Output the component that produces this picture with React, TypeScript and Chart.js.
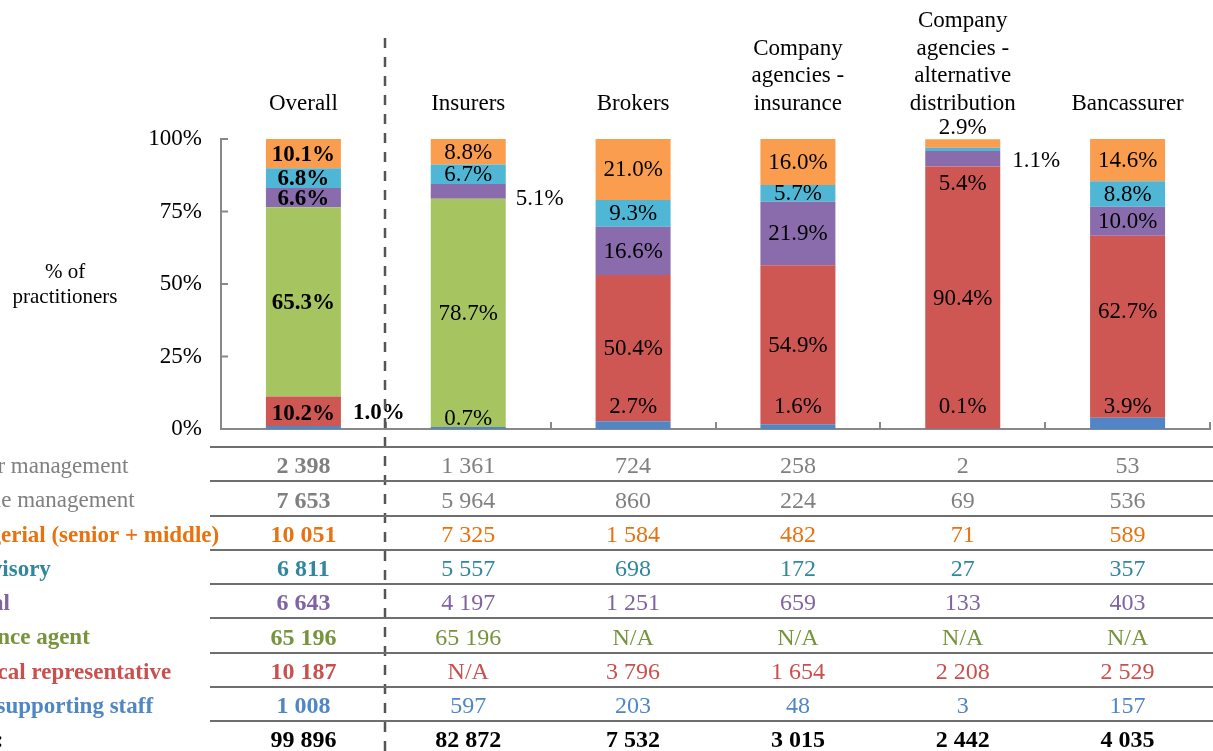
import React, { useEffect, useRef } from "react";
import { Chart, registerables } from "chart.js";

Chart.register(...registerables);

// ---------- DATA ----------
const categories: string[][] = [
  ["Overall"],
  ["Insurers"],
  ["Brokers"],
  ["Company", "agencies -", "insurance"],
  ["Company", "agencies -", "alternative", "distribution"],
  ["Bancassurer"],
];

const seriesNames = [
  "Other supporting staff",
  "Technical representative",
  "Insurance agent",
  "Clerical",
  "Supervisory",
  "Managerial (senior + middle)",
];
const otherPct = [1.0, 0.7, 2.7, 1.6, 0.1, 3.9];
const techPct = [10.2, 0, 50.4, 54.9, 90.4, 62.7];
const agentPct = [65.3, 78.7, 0, 0, 0, 0];
const clericalPct = [6.6, 5.1, 16.6, 21.9, 5.4, 10.0];
const supervisoryPct = [6.8, 6.7, 9.3, 5.7, 1.1, 8.8];
const managerialPct = [10.1, 8.8, 21.0, 16.0, 2.9, 14.6];

const yTicks = [0, 25, 50, 75, 100];

const tableRowLabels = [
  "Senior management",
  "Middle management",
  "Managerial (senior + middle)",
  "Supervisory",
  "Clerical",
  "Insurance agent",
  "Technical representative",
  "Other supporting staff",
  "Total:",
];
const seniorMgmt = [2398, 1361, 724, 258, 2, 53];
const middleMgmt = [7653, 5964, 860, 224, 69, 536];
const managerialCount = [10051, 7325, 1584, 482, 71, 589];
const supervisoryCount = [6811, 5557, 698, 172, 27, 357];
const clericalCount = [6643, 4197, 1251, 659, 133, 403];
const agentCount: (number | null)[] = [65196, 65196, null, null, null, null];
const techCount: (number | null)[] = [10187, null, 3796, 1654, 2208, 2529];
const otherCount = [1008, 597, 203, 48, 3, 157];
const totalCount = [99896, 82872, 7532, 3015, 2442, 4035];

// ---------- STYLE ----------
const barColors = ["#5086C6", "#CE5653", "#A6C561", "#8A6CAD", "#4FB7D5", "#FB9D4E"];
const rowColors = ["#808080", "#808080", "#E8720F", "#31879D", "#8064A2", "#77933C", "#C9504D", "#4F86C6", "#000000"];
const rowLabelBold = [false, false, true, true, true, true, true, true, true];

const SERIF = "'Liberation Serif', 'Times New Roman', serif";

// label placement overrides: key "dataset-category"
type Place = { mode: "center" | "right" | "above" | "base"; dx?: number; dy?: number };
const placements: Record<string, Place> = {
  "0-0": { mode: "right", dx: 12, dy: -15 },
  "0-1": { mode: "base", dy: -11 },
  "0-2": { mode: "base", dy: -23 },
  "0-3": { mode: "base", dy: -23 },
  "0-4": { mode: "base", dy: -23 },
  "0-5": { mode: "base", dy: -23 },
  "1-0": { mode: "center", dy: 2 },
  "3-1": { mode: "right", dx: 10, dy: 7 },
  "3-4": { mode: "center", dy: 24 },
  "4-4": { mode: "right", dx: 12, dy: 11 },
  "5-4": { mode: "above", dy: -12 },
  "1-5": { mode: "center", dy: -16 },
};

function fmt(v: number | null): string {
  if (v === null) return "N/A";
  return String(v).replace(/\B(?=(\d{3})+(?!\d))/g, " ");
}

const overlayPlugin = {
  id: "overlay",
  afterDraw(chart: any) {
    const ctx: CanvasRenderingContext2D = chart.ctx;
    const xs = chart.scales.x;
    const ys = chart.scales.y;
    const area = chart.chartArea;
    ctx.save();

    // inward y ticks
    ctx.strokeStyle = "#888";
    ctx.lineWidth = 2;
    yTicks.forEach((t) => {
      const y = ys.getPixelForValue(t);
      ctx.beginPath();
      ctx.moveTo(area.left, y);
      ctx.lineTo(area.left + 7, y);
      ctx.stroke();
    });
    // x boundary ticks
    const n = categories.length;
    for (let i = 1; i <= n; i++) {
      const x = Math.round(xs.getPixelForValue(i - 0.5));
      ctx.beginPath();
      ctx.moveTo(x, area.bottom);
      ctx.lineTo(x, area.bottom - 7);
      ctx.stroke();
    }

    // headers
    ctx.fillStyle = "#000";
    ctx.font = `23px ${SERIF}`;
    ctx.textAlign = "center";
    ctx.textBaseline = "middle";
    categories.forEach((lines, i) => {
      const x = xs.getPixelForValue(i);
      const lh = 27.6;
      lines.forEach((ln, k) => {
        const y = 104 - (lines.length - 1 - k) * lh;
        ctx.fillText(ln, x, y);
      });
    });

    // y title
    ctx.font = `21px ${SERIF}`;
    ctx.fillText("% of", 65, 272);
    ctx.fillText("practitioners", 65, 297);

    // bar labels
    chart.data.datasets.forEach((ds: any, di: number) => {
      const meta = chart.getDatasetMeta(di);
      meta.data.forEach((bar: any, ci: number) => {
        const v = ds.data[ci];
        if (!v) return;
        const p = placements[`${di}-${ci}`] || { mode: "center" };
        const bold = ci === 0;
        ctx.font = `${bold ? "bold " : ""}23px ${SERIF}`;
        ctx.fillStyle = "#000";
        const txt = v.toFixed(1) + "%";
        let x = bar.x;
        let y = (bar.y + bar.base) / 2;
        ctx.textAlign = "center";
        if (p.mode === "right") {
          x = bar.x + bar.width / 2 + (p.dx || 0);
          ctx.textAlign = "left";
        } else if (p.mode === "above") {
          y = bar.y;
        } else if (p.mode === "base") {
          y = ys.getPixelForValue(0);
        }
        y += p.dy || 0;
        ctx.fillText(txt, x, y + 1);
      });
    });

    // dashed separator
    const sepX = Math.round(xs.getPixelForValue(0.5)) - 1;
    ctx.strokeStyle = "#555";
    ctx.lineWidth = 2.5;
    ctx.setLineDash([10, 9]);
    ctx.beginPath();
    ctx.moveTo(sepX, 38);
    ctx.lineTo(sepX, 751);
    ctx.stroke();
    ctx.setLineDash([]);

    // table
    const rows = [seniorMgmt, middleMgmt, managerialCount, supervisoryCount, clericalCount, agentCount, techCount, otherCount, totalCount];
    const top = 447;
    const rh = 34.25;
    ctx.strokeStyle = "#6e6e6e";
    ctx.lineWidth = 2;
    for (let r = 0; r < rows.length; r++) {
      const ly = Math.round(top + r * rh);
      ctx.beginPath();
      ctx.moveTo(210, ly);
      ctx.lineTo(1213, ly);
      ctx.stroke();
    }
    rows.forEach((vals, r) => {
      const cy = top + (r + 0.5) * rh + 3;
      ctx.fillStyle = rowColors[r];
      ctx.textAlign = "left";
      const bold = rowLabelBold[r];
      ctx.font = `${bold ? "bold " : ""}${r === 8 ? 24 : 23}px ${SERIF}`;
      ctx.fillText(tableRowLabels[r], r === 8 ? -57 : bold ? -68 : -55, cy);
      ctx.textAlign = "center";
      vals.forEach((v, ci) => {
        const b = ci === 0 || r === 8;
        ctx.font = `${b ? "bold " : ""}24px ${SERIF}`;
        ctx.fillText(fmt(v as number | null), xs.getPixelForValue(ci), cy);
      });
    });

    ctx.restore();
  },
};

export default function App() {
  const ref = useRef<HTMLCanvasElement>(null);
  useEffect(() => {
    if (!ref.current) return;
    const seriesData = [otherPct, techPct, agentPct, clericalPct, supervisoryPct, managerialPct];
    const chart = new Chart(ref.current, {
      type: "bar",
      data: {
        labels: categories.map((c) => c.join(" ")),
        datasets: seriesData.map((d, i) => ({
          label: seriesNames[i],
          data: d,
          backgroundColor: barColors[i],
          borderWidth: 0,
          categoryPercentage: 1,
          barPercentage: 0.455,
        })),
      },
      options: {
        responsive: false,
        animation: false,
        devicePixelRatio: 1,
        layout: { padding: { left: 0, right: 3, top: 139, bottom: 0 } },
        plugins: { legend: { display: false }, tooltip: { enabled: false } },
        scales: {
          x: {
            stacked: true,
            ticks: { display: false },
            grid: { display: false, drawTicks: false },
            border: { display: true, color: "#888", width: 2 },
            afterFit: (s: any) => {
              s.height = 322;
            },
          },
          y: {
            stacked: true,
            min: 0,
            max: 100,
            ticks: {
              stepSize: 25,
              padding: 19,
              color: "#000",
              font: { family: "Liberation Serif", size: 23 },
              callback: (v: any) => v + "%",
            },
            grid: { display: false, drawTicks: false },
            border: { display: true, color: "#888", width: 2 },
            afterFit: (s: any) => {
              s.width = 221;
            },
          },
        },
      },
      plugins: [overlayPlugin],
    });
    return () => chart.destroy();
  }, []);
  return (
    <div style={{ position: "absolute", left: 0, top: 0, width: 1213, height: 751, background: "#fff" }}>
      <canvas ref={ref} width={1213} height={751} style={{ width: 1213, height: 751, display: "block" }} />
    </div>
  );
}
